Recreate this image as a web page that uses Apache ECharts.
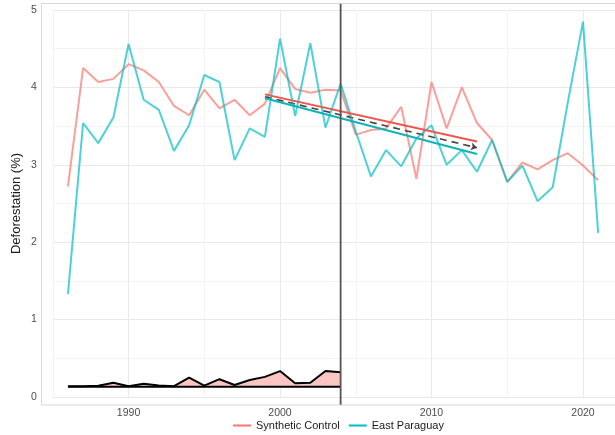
<!DOCTYPE html>
<html><head><meta charset="utf-8">
<script src="https://cdn.jsdelivr.net/npm/echarts@6/dist/echarts.min.js"></script>
<style>html,body{margin:0;padding:0;background:#fff}#c{width:615px;height:435px}</style>
</head><body><div id="c"></div>
<script>
const years = [1986,1987,1988,1989,1990,1991,1992,1993,1994,1995,1996,1997,1998,1999,2000,2001,2002,2003,2004,2005,2006,2007,2008,2009,2010,2011,2012,2013,2014,2015,2016,2017,2018,2019,2020,2021];
const eastParaguay = [1.33,3.54,3.28,3.61,4.56,3.84,3.71,3.18,3.51,4.16,4.07,3.06,3.47,3.36,4.63,3.63,4.57,3.48,4.05,3.43,2.85,3.19,2.98,3.34,3.51,3.00,3.19,2.91,3.32,2.78,2.99,2.53,2.71,3.81,4.85,2.12];
const syntheticControl = [2.72,4.25,4.07,4.11,4.30,4.22,4.07,3.76,3.64,3.97,3.73,3.84,3.64,3.79,4.25,3.98,3.93,3.97,3.96,3.39,3.45,3.47,3.75,2.82,4.07,3.47,4.00,3.54,3.32,2.78,3.03,2.94,3.06,3.15,2.99,2.80];
const gapYears = [1986,1987,1988,1989,1990,1991,1992,1993,1994,1995,1996,1997,1998,1999,2000,2001,2002,2003,2004];
const gapUpper = [0.14,0.14,0.145,0.185,0.14,0.17,0.15,0.14,0.25,0.146,0.23,0.155,0.22,0.26,0.335,0.177,0.185,0.335,0.32];
const gapBaseline = 0.133;
const trendYears = [1999,2013];
const trendSynthetic = [3.91,3.30];
const trendEast = [3.86,3.14];
const trendMid = [3.88,3.22];
const treatmentYear = 2004;
const vlineRange = [-0.1,5.08];
const xTickLabels = [1990,2000,2010,2020];
const yTickLabels = [0,1,2,3,4,5];

const RED = '#F8766D', TEAL = '#00BFC4';
const zip = (xs, ys) => xs.map((x,i)=>[x, ys[i]]);

const chart = echarts.init(document.getElementById('c'), null, {renderer:'canvas'});
chart.setOption({
  animation:false,
  backgroundColor:'#fff',
  grid:{left:52.8, right:-43.75, top:10, bottom:38, containLabel:false, outerBoundsMode:'none'},
  graphic:[{type:'rect', shape:{x:41.5, y:3.5, width:700, height:401.5}, style:{fill:'none', stroke:'#d9d9d9', lineWidth:1}, z:-1, silent:true}],
  xAxis:{type:'value', min:1985, max:2025, interval:5,
    axisLine:{show:false}, axisTick:{show:false},
    axisLabel:{margin:11, color:'#4d4d4d', fontSize:10.5, fontFamily:'Liberation Sans, Arial, sans-serif',
      formatter:v=> xTickLabels.includes(v) ? String(v) : ''},
    splitLine:{show:true, lineStyle:{color:['#f3f3f3','#e9e9e9'], width:1}}},
  yAxis:{type:'value', min:0, max:5, interval:0.5,
    name:'Deforestation (%)', nameLocation:'middle', nameGap:30, nameMoveOverlap:false,
    nameTextStyle:{color:'#1a1a1a', fontSize:13, fontFamily:'Liberation Sans, Arial, sans-serif'},
    axisLine:{show:false}, axisTick:{show:false},
    axisLabel:{margin:16, color:'#4d4d4d', fontSize:10.5, fontFamily:'Liberation Sans, Arial, sans-serif',
      formatter:v=> yTickLabels.includes(v) ? String(v) : ''},
    splitLine:{show:true, lineStyle:{color:['#e9e9e9','#f3f3f3'], width:1}}},
  legend:{data:['Synthetic Control','East Paraguay'], left:228, top:415, icon:'rect', itemWidth:18, itemHeight:2, itemGap:9,
    textStyle:{color:'#1a1a1a', fontSize:11, fontFamily:'Liberation Sans, Arial, sans-serif'}},
  series:[
    {name:'gap', type:'line', data:zip(gapYears,gapUpper), symbol:'none', z:2,
      lineStyle:{color:'#000', width:2}, areaStyle:{color:'#fbc6c2', opacity:1, origin:gapBaseline}},
    {name:'gapBase', type:'line', data:[[gapYears[0],gapBaseline],[gapYears[gapYears.length-1],gapBaseline]], symbol:'none', z:3,
      lineStyle:{color:'#000', width:2}},
    {name:'Synthetic Control', type:'line', data:zip(years,syntheticControl), symbol:'none', z:4, color:RED,
      lineStyle:{color:RED, width:2, opacity:0.7}},
    {name:'East Paraguay', type:'line', data:zip(years,eastParaguay), symbol:'none', z:5, color:TEAL,
      lineStyle:{color:TEAL, width:2, opacity:0.7}},
    {name:'trendRed', type:'line', data:zip(trendYears,trendSynthetic), symbol:'none', z:6,
      lineStyle:{color:'#f0554c', width:2}},
    {name:'trendTeal', type:'line', data:zip(trendYears,trendEast), symbol:'none', z:6,
      lineStyle:{color:'#10b3b6', width:2.2}},
    {name:'trendMid', type:'line', data:[], z:7,
      markLine:{silent:true, symbol:['none','arrow'], symbolSize:6, label:{show:false},
        lineStyle:{color:'#444', type:[7,5], width:1.6},
        data:[[{coord:[trendYears[0],trendMid[0]]},{coord:[trendYears[1],trendMid[1]]}]]}},
    {name:'treatment', type:'line', data:[[treatmentYear,vlineRange[0]],[treatmentYear,vlineRange[1]]], symbol:'none', clip:false, z:8,
      lineStyle:{color:'#555', width:1.8}}
  ]
});
</script></body></html>
